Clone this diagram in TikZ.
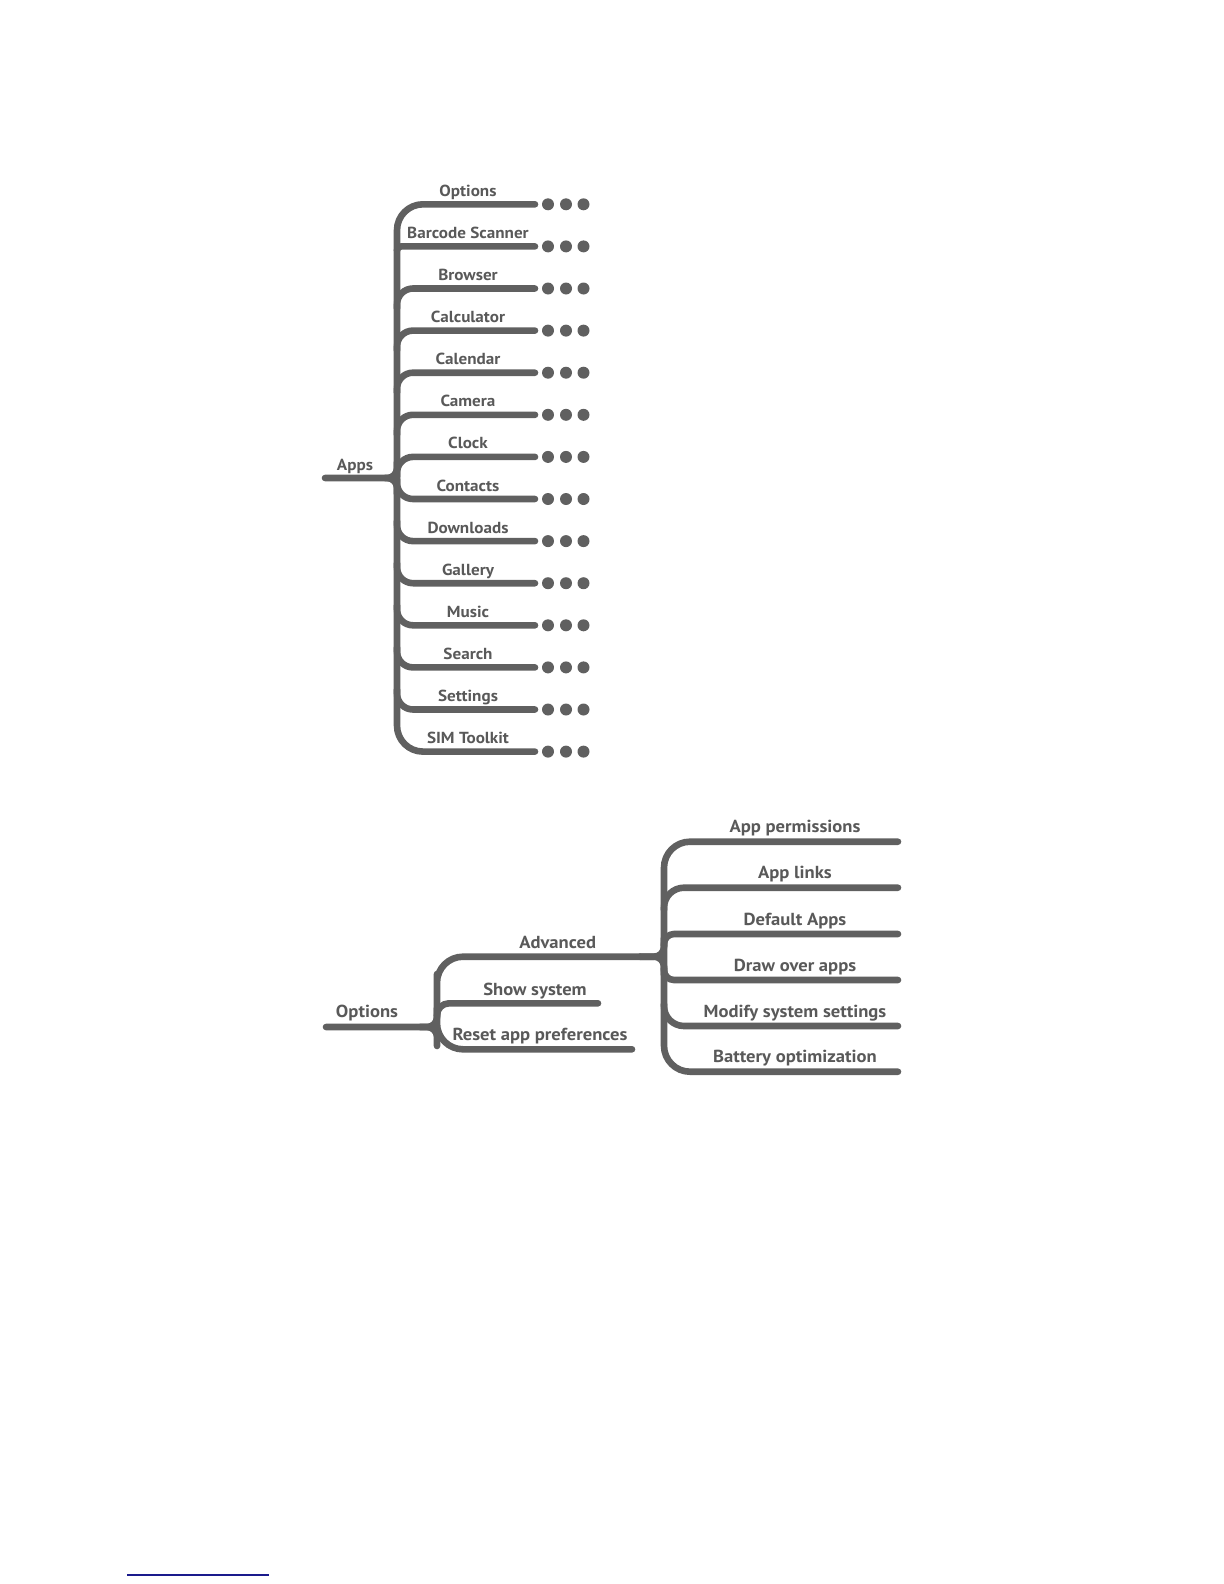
\documentclass[tikz,border=0pt]{standalone}
\usepackage{fontspec}
\setmainfont{PT Sans}[FakeStretch=1.07]
\definecolor{tree}{HTML}{606060}
\definecolor{txt}{HTML}{595959}
\definecolor{rule}{HTML}{1A1A8C}
\begin{document}
\begin{tikzpicture}[x=0.5pt,y=-0.5pt,
  br/.style={draw=tree,line width=3.3pt,line cap=round,line join=round},
  lblA/.style={text=txt,font=\bfseries\fontsize{8}{9}\selectfont,anchor=base,inner sep=0pt},
  lblB/.style={text=txt,font=\bfseries\fontsize{8.7}{10}\selectfont,anchor=base,inner sep=0pt},
  dot/.style={fill=tree}]
\useasboundingbox (0,0) rectangle (1224,1584);
% ---------- top tree ----------
\coordinate (appsL) at (325,478);
\coordinate (appsJ) at (397,478);
\node[lblA] (apps) at (355,470.5) {Apps};
\draw[br,rounded corners=5pt] (appsL) -- (385,478) -| (397,462);
\draw[br,rounded corners=5pt] (385,478) -| (397,494);
\foreach \k/\t in {0/Options,1/Barcode Scanner,2/Browser,3/Calculator,4/Calendar,5/Camera,6/Clock,7/Contacts,8/Downloads,9/Gallery,10/Music,11/Search,12/Settings,13/SIM Toolkit}{
  \pgfmathsetmacro{\yy}{204.3+42.1*\k}
  \coordinate (e\k) at (535,\yy);
  \node[lblA] (t\k) at (468,\yy-8) {\t};
  \fill[dot] (548,\yy) circle (3pt) (566,\yy) circle (3pt) (583.5,\yy) circle (3pt);
}
\draw[br,rounded corners=13pt] (e0) -| (appsJ) |- (e13);
\foreach \k in {2,...,6}{
  \pgfmathsetmacro{\yy}{204.3+42.1*\k}
  \draw[br,rounded corners=8pt] (397,\yy+20) |- (e\k);
}
\draw[br,rounded corners=2pt] (397,250) |- (e1);
\foreach \k in {7,...,12}{
  \pgfmathsetmacro{\yy}{204.3+42.1*\k}
  \draw[br,rounded corners=8pt] (397,\yy-20) |- (e\k);
}
% ---------- bottom tree ----------
\coordinate (optL) at (326,1027);
\coordinate (advE) at (640,956.7);
\coordinate (showE) at (598,1003.3);
\coordinate (resetE) at (632,1049.3);
\node[lblB] (opt) at (367,1017) {Options};
\node[lblB] (adv) at (557.7,948) {Advanced};
\node[lblB] (show) at (535,995) {Show system};
\node[lblB] (reset) at (540,1040.7) {Reset app preferences};
\draw[br,rounded corners=5pt] (optL) -- (420,1027) -| (437,1008);
\draw[br,rounded corners=5pt] (420,1027) -| (437,1046);
\draw[br,rounded corners=13pt] (advE) -| (437,1000) |- (resetE);
\draw[br,rounded corners=6pt] (437,1016) |- (showE);
\draw[br,rounded corners=5pt] (advE) -| (664,938);
\draw[br,rounded corners=5pt] (advE) -| (664,975);
\foreach \k/\yy/\t in {1/841.7/App permissions,2/887.7/App links,3/934/Default Apps,4/980/Draw over apps,5/1026/Modify system settings,6/1071.7/Battery optimization}{
  \coordinate (r\k) at (898,\yy);
  \node[lblB] (s\k) at (795,\yy-9) {\t};
}
\draw[br,rounded corners=13pt] (r1) -| (664,956) |- (r6);
\draw[br,rounded corners=10pt] (664,910) |- (r2);
\draw[br,rounded corners=5pt] (664,946) |- (r3);
\draw[br,rounded corners=5pt] (664,968) |- (r4);
\draw[br,rounded corners=10pt] (664,1004) |- (r5);
% ---------- footnote rule ----------
\coordinate (fnL) at (127,1575);
\coordinate (fnR) at (269,1575);
\draw[rule,line width=0.6pt] (fnL) -- (fnR);
\end{tikzpicture}
\end{document}
